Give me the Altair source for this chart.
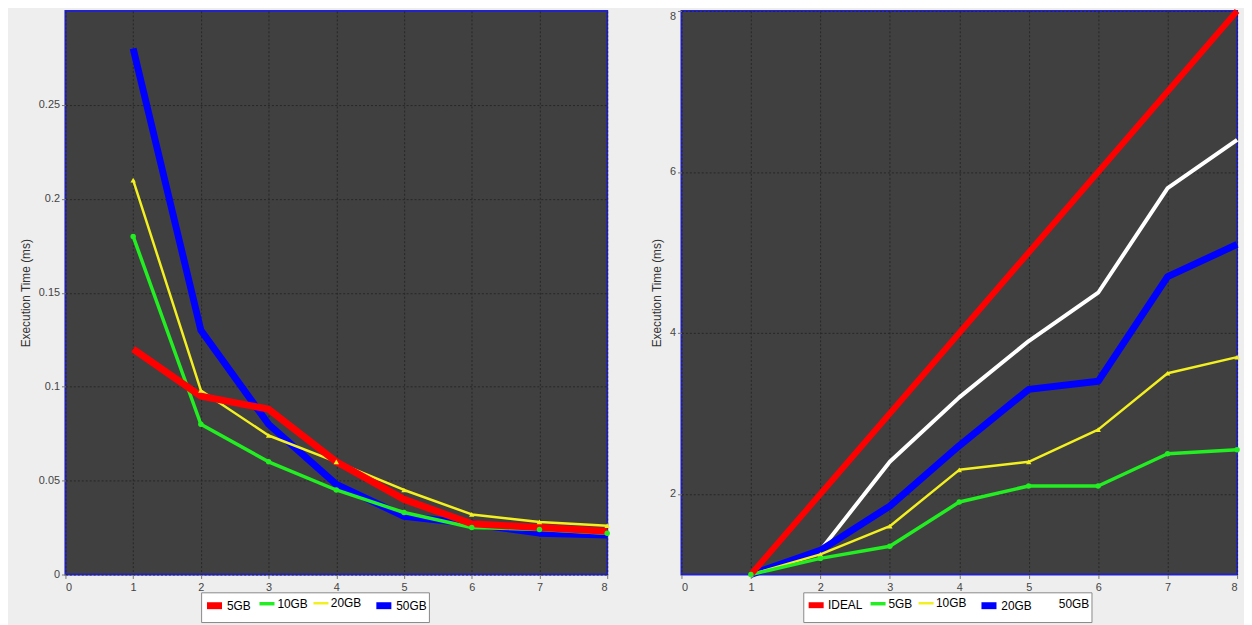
import altair as alt
import pandas as pd

x_vals = [1, 2, 3, 4, 5, 6, 7, 8]

# Left chart: execution time
left_series = ["5GB", "10GB", "20GB", "50GB"]
left_5gb = [0.12, 0.095, 0.088, 0.060, 0.040, 0.027, 0.025, 0.023]
left_10gb = [0.18, 0.080, 0.060, 0.045, 0.033, 0.025, 0.024, 0.022]
left_20gb = [0.21, 0.098, 0.074, 0.060, 0.045, 0.032, 0.028, 0.026]
left_50gb = [0.28, 0.130, 0.080, 0.048, 0.031, 0.027, 0.022, 0.021]
left_colors = ["#ff0000", "#22ee22", "#f2f020", "#0000ff"]
left_widths = [7, 3.5, 2.5, 7]

# Right chart: speedup
right_series = ["IDEAL", "5GB", "10GB", "20GB", "50GB"]
right_ideal = [1, 2, 3, 4, 5, 6, 7, 8]
right_5gb = [1, 1.2, 1.35, 1.9, 2.1, 2.1, 2.5, 2.55]
right_10gb = [1, 1.25, 1.6, 2.3, 2.4, 2.8, 3.5, 3.7]
right_20gb = [1, 1.3, 1.85, 2.6, 3.3, 3.4, 4.7, 5.1]
right_50gb = [1, 1.3, 2.4, 3.2, 3.9, 4.5, 5.8, 6.4]
right_colors = ["#ff0000", "#22ee22", "#f2f020", "#0000ff", "#ffffff"]
right_widths = [6, 3.5, 2.5, 7, 4]


def build(values_by_name, draw_order):
    rows = []
    for name in draw_order:
        for x, v in zip(x_vals, values_by_name[name]):
            rows.append({"x": x, "y": v, "series": name})
    return pd.DataFrame(rows)


df_left = build(
    {"5GB": left_5gb, "10GB": left_10gb, "20GB": left_20gb, "50GB": left_50gb},
    ["50GB", "20GB", "10GB", "5GB"],
)
df_right = build(
    {"IDEAL": right_ideal, "5GB": right_5gb, "10GB": right_10gb,
     "20GB": right_20gb, "50GB": right_50gb},
    ["50GB", "20GB", "10GB", "5GB", "IDEAL"],
)

FONT = "Liberation Sans"
PLOT_H = 569


def legend(x):
    return alt.Legend(
        title=None, orient="none", legendX=x, legendY=PLOT_H + 18,
        direction="horizontal", symbolType="stroke", symbolSize=230,
        labelFontSize=12, labelFont=FONT, labelColor="#000000",
        labelOffset=1, columnPadding=0, padding=2, rowPadding=0,
        gridAlign="none",
        strokeColor="#888888", fillColor="#ffffff",
    )


def panel(df, series, colors, widths, ydom, yvals, width, title_pad, legx,
          marker_series, flush):
    xenc = alt.X("x:Q", scale=alt.Scale(domain=[0, 8], nice=False),
                 axis=alt.Axis(values=list(range(9)), title=None,
                               labelPadding=3))
    yenc = alt.Y("y:Q", scale=alt.Scale(domain=ydom, nice=False, zero=False),
                 axis=alt.Axis(values=yvals, format="~g",
                               title="Execution Time (ms)",
                               titlePadding=title_pad, labelFlush=flush))
    leg = legend(legx)
    lines = alt.Chart(df).mark_line(strokeJoin="round").encode(
        x=xenc, y=yenc,
        color=alt.Color("series:N", scale=alt.Scale(domain=series, range=colors),
                        legend=leg),
        strokeWidth=alt.StrokeWidth(
            "series:N",
            scale=alt.Scale(type="ordinal", domain=series, range=widths),
            legend=leg),
    )
    pts = alt.Chart(df).transform_filter(
        alt.FieldOneOfPredicate(field="series", oneOf=marker_series)
    ).mark_point(filled=True, size=30, opacity=1).encode(
        x=xenc, y=yenc,
        color=alt.Color("series:N", scale=alt.Scale(domain=series, range=colors),
                        legend=None),
        shape=alt.Shape("series:N",
                        scale=alt.Scale(domain=marker_series,
                                        range=["circle", "triangle-up"]),
                        legend=None),
    )
    return alt.layer(lines, pts).properties(width=width, height=PLOT_H)


left = panel(df_left, left_series, left_colors, left_widths, [0, 0.3],
             [0, 0.05, 0.1, 0.15, 0.2, 0.25], 547, 6, 137, ["10GB", "20GB"],
             False)
right = panel(df_right, right_series, right_colors, right_widths, [1, 8],
              [2, 4, 6, 8], 561, 6, 123, ["5GB", "10GB"], True)

chart = alt.hconcat(left, right, spacing=37).resolve_scale(
    color="independent", strokeWidth="independent", shape="independent"
).resolve_legend(color="independent", strokeWidth="independent").properties(
    background="#eeeeee",
    padding={"left": 10, "top": -4, "right": 2, "bottom": 0},
).configure_view(
    fill="#404040", stroke="#2222c8", strokeWidth=2
).configure_axis(
    grid=True, gridColor="#262626", gridDash=[2, 2], gridWidth=1,
    domain=False, labelColor="#444444", labelFont=FONT, labelFontSize=11,
    tickColor="#777777", tickSize=4, titleFont=FONT, titleFontSize=12,
    titleFontWeight="normal", titleColor="#333333",
)

chart.save("out.html", embed_options={"renderer": "svg", "actions": False})
